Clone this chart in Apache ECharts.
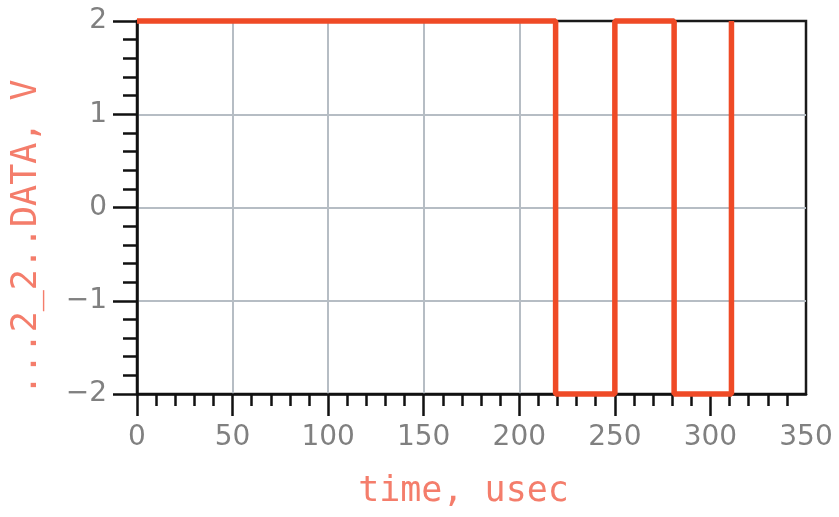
<!DOCTYPE html>
<html>
<head>
<meta charset="utf-8">
<script src="https://cdn.jsdelivr.net/npm/echarts@6/dist/echarts.min.js"></script>
<style>html,body{margin:0;padding:0;background:#fff;}#chart{width:839px;height:517px;}</style>
</head>
<body>
<div id="chart"></div>
<script>
// Step signal: transition times (usec) and the level reached at each time (V)
var times = [0, 219, 250, 281, 311];
var levels = [2, -2, 2, -2, 2];
var xTicks = [0, 50, 100, 150, 200, 250, 300, 350];
var xMajorTickMarks = [0, 50, 100, 150, 200, 250, 300];
var yTicks = [-2, -1, 0, 1, 2];
var xTitle = 'time, usec';
var yTitle = '...2_2..DATA, V';

var data = times.map(function (t, i) { return [t, levels[i]]; });

var chart = echarts.init(document.getElementById('chart'));
function fmt(v) { return String(v).replace('-', '\u2212'); }
var labelFont = { fontFamily: 'DejaVu Sans', fontSize: 28, color: '#808080', formatter: fmt };
chart.setOption({
  animation: false,
  backgroundColor: '#fff',
  grid: { left: 137, right: 33, top: 21, bottom: 123, outerBoundsMode: 'none', containLabel: false, show: true, borderColor: '#1a1a1a', borderWidth: 2.5, backgroundColor: 'transparent' },
  xAxis: {
    type: 'value', min: xTicks[0], max: xTicks[xTicks.length - 1], interval: 50,
    name: xTitle, nameLocation: 'middle', nameGap: 80,
    nameTextStyle: { fontFamily: 'DejaVu Sans Mono', fontSize: 35, color: '#f47d6b', padding: [0, 16, 0, 0] },
    axisLine: { onZero: false, lineStyle: { color: '#111', width: 2.5 } },
    axisTick: { length: 22, customValues: xMajorTickMarks, lineStyle: { color: '#111', width: 2.5 } },
    minorTick: { show: true, splitNumber: 5, length: 12, lineStyle: { color: '#111', width: 2.5 } },
    axisLabel: Object.assign({ margin: 30 }, labelFont),
    splitLine: { show: true, showMinLine: false, showMaxLine: false, lineStyle: { color: '#b6bdc4', width: 2 } }
  },
  yAxis: {
    type: 'value', min: yTicks[0], max: yTicks[yTicks.length - 1], interval: 1,
    name: yTitle, nameLocation: 'middle', nameGap: 93, nameRotate: 90,
    nameTextStyle: { fontFamily: 'DejaVu Sans Mono', fontSize: 35, color: '#f47d6b', padding: [0, 60, 0, 0] },
    axisLine: { onZero: false, lineStyle: { color: '#111', width: 2.5 } },
    axisTick: { length: 24, lineStyle: { color: '#111', width: 2.5 } },
    minorTick: { show: true, splitNumber: 5, length: 14, lineStyle: { color: '#111', width: 2.5 } },
    axisLabel: Object.assign({ margin: 30 }, labelFont),
    splitLine: { show: true, showMinLine: false, showMaxLine: false, lineStyle: { color: '#b6bdc4', width: 2 } }
  },
  series: [{
    type: 'line', data: data, step: 'end', showSymbol: false, clip: false,
    lineStyle: { color: '#ef4a26', width: 5.5 }
  }]
});
</script>
</body>
</html>
